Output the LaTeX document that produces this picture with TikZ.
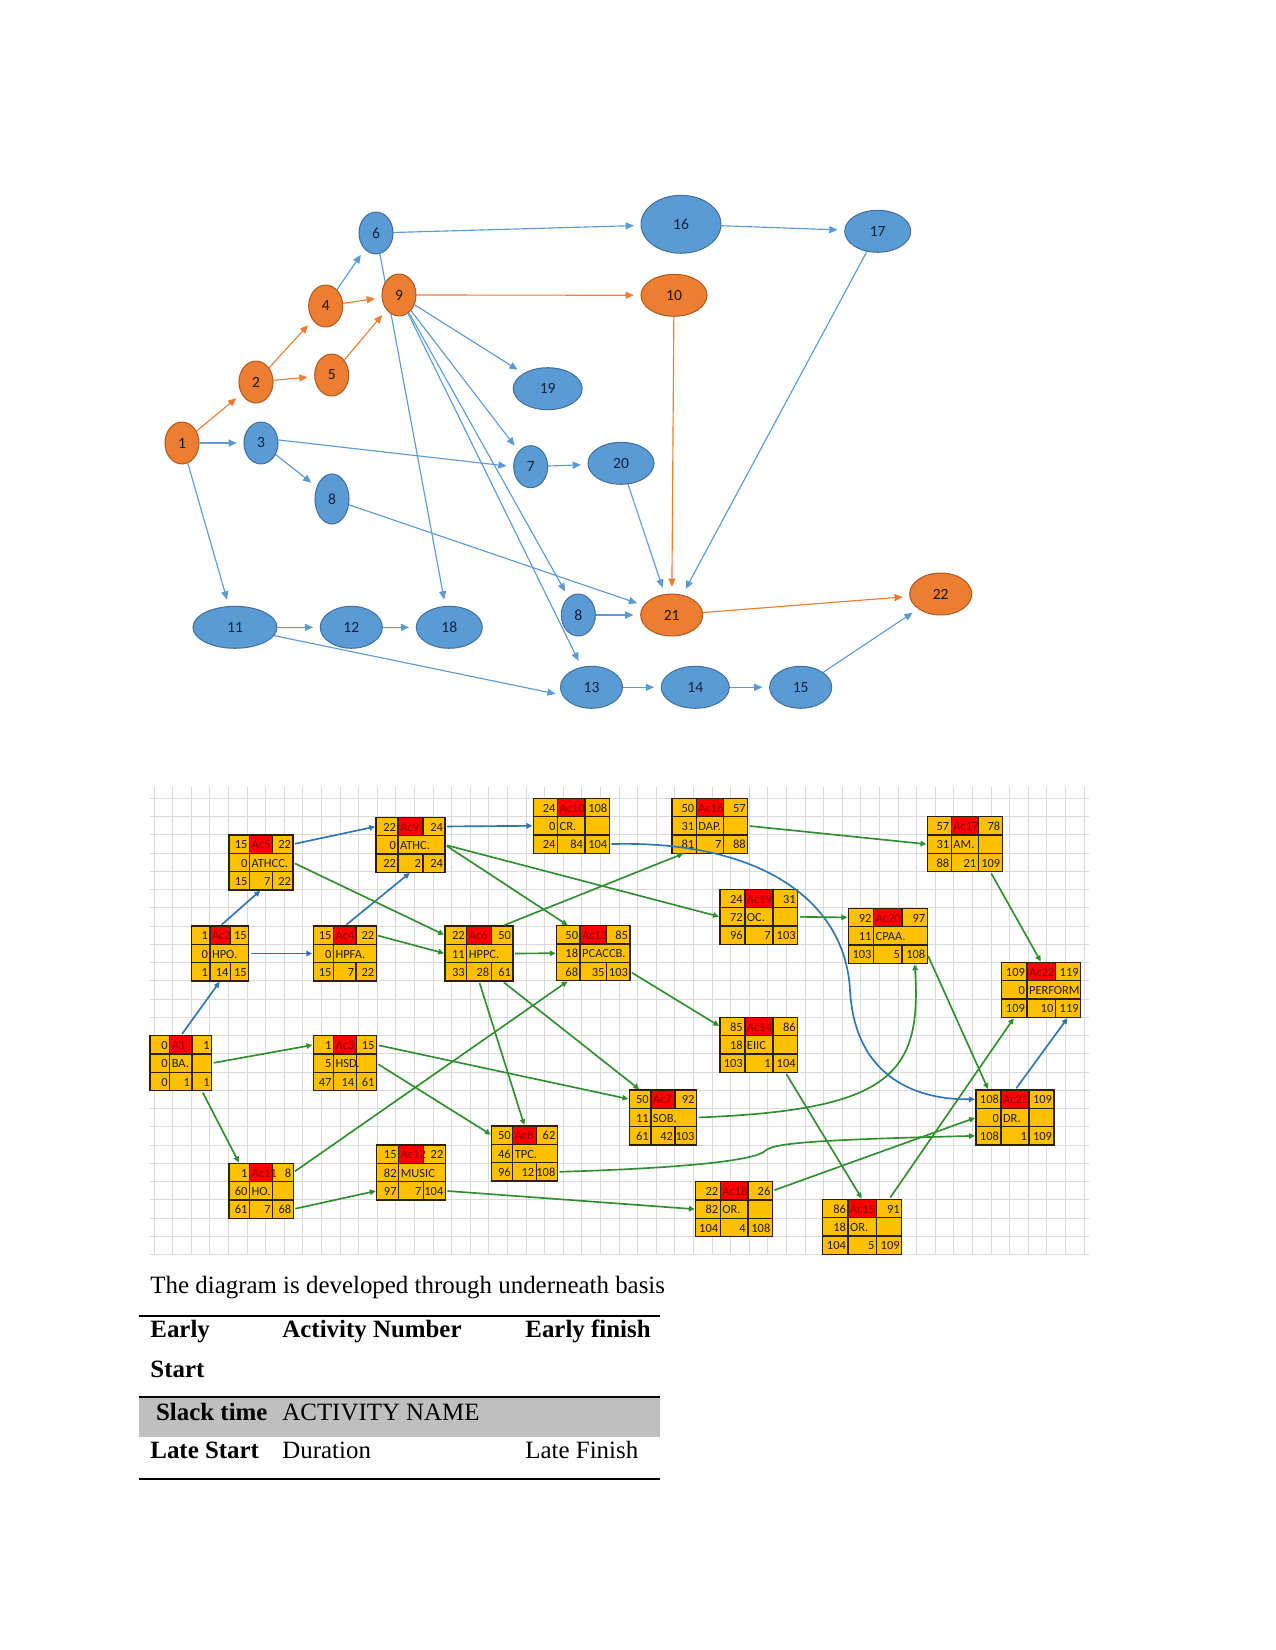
\documentclass[tikz,border=0pt]{standalone}
\usepackage{fontspec}
\setmainfont{Liberation Serif}
\newfontfamily\calibri{Carlito}
\usetikzlibrary{arrows.meta,shapes.geometric,backgrounds}

\definecolor{evblue}{HTML}{5B9BD5}
\definecolor{evblueline}{HTML}{41719C}
\definecolor{evorange}{HTML}{ED7D31}
\definecolor{evorangeline}{HTML}{AE5A21}
\definecolor{evink}{HTML}{14213D}
\definecolor{boxgold}{HTML}{FFC000}
\definecolor{boxred}{HTML}{FF0000}
\definecolor{boxedge}{HTML}{2B2100}
\definecolor{boxtext}{HTML}{1E1E1E}
\definecolor{boxidtext}{HTML}{8B0000}
\definecolor{linkblue}{HTML}{2E75B6}
\definecolor{linkgreen}{HTML}{2F8F2F}
\definecolor{gridgray}{HTML}{DADADA}
\definecolor{bandgray}{HTML}{BFBFBF}

% activity box: name, x, y, width, ES/No./EF, slack/name, LS/dur/LF, split middle row
\def\actrowA#1/#2/#3\relax{\def\aES{#1}\def\aNo{#2}\def\aEF{#3}}
\def\actrowB#1/#2\relax{\def\aSL{#1}\def\aNm{#2}}
\def\actrowC#1/#2/#3\relax{\def\aLS{#1}\def\aDu{#2}\def\aLF{#3}}
\newcommand{\act}[8]{%
  \actrowA#5\relax\actrowB#6\relax\actrowC#7\relax
  \fill[boxgold] (#2,#3) rectangle ++(#4,55);
  \fill[boxred] (#2+0.32*#4,#3) rectangle ++(0.36*#4,18.33);
  \draw[cell] (#2,#3) rectangle ++(#4,55)
    (#2,#3+18.33) -- ++(#4,0) (#2,#3+36.67) -- ++(#4,0)
    (#2+0.32*#4,#3) -- ++(0,55)
    (#2+0.68*#4,#3) -- ++(0,18.33) (#2+0.68*#4,#3+36.67) -- ++(0,18.33);
  \ifnum#8=1 \draw[cell] (#2+0.68*#4,#3+18.33) -- ++(0,18.33);\fi
  \node[num, anchor=mid east] (#1-es) at (#2+0.32*#4,#3+9.17) {\aES};
  \node[idtxt, anchor=mid west] (#1-no) at (#2+0.32*#4,#3+9.17) {\aNo};
  \node[num, anchor=mid east] (#1-ef) at (#2+#4,#3+9.17) {\aEF};
  \node[num, anchor=mid east] (#1-sl) at (#2+0.32*#4,#3+27.5) {\aSL};
  \node[num, anchor=mid west] (#1-nm) at (#2+0.32*#4,#3+27.5) {\aNm};
  \node[num, anchor=mid east] (#1-ls) at (#2+0.32*#4,#3+45.83) {\aLS};
  \node[num, anchor=mid east] (#1-du) at (#2+0.68*#4,#3+45.83) {\aDu};
  \node[num, anchor=mid east] (#1-lf) at (#2+#4,#3+45.83) {\aLF};
  \coordinate (#1-n1) at (#2+0.16*#4,#3);
  \coordinate (#1-n2) at (#2+0.5*#4,#3);
  \coordinate (#1-n3) at (#2+0.84*#4,#3);
  \coordinate (#1-s1) at (#2+0.16*#4,#3+55);
  \coordinate (#1-s2) at (#2+0.5*#4,#3+55);
  \coordinate (#1-s3) at (#2+0.84*#4,#3+55);
  \coordinate (#1-w1) at (#2,#3+9.17);
  \coordinate (#1-w2) at (#2,#3+27.5);
  \coordinate (#1-w3) at (#2,#3+45.83);
  \coordinate (#1-e1) at (#2+#4,#3+9.17);
  \coordinate (#1-e2) at (#2+#4,#3+27.5);
  \coordinate (#1-e3) at (#2+#4,#3+45.83);
}

\begin{document}
\begin{tikzpicture}[
    x=0.4818pt, y=-0.4818pt,
    ev/.style={ellipse, inner sep=0pt, line width=0.5pt, font=\calibri\fontsize{7.5}{9}\selectfont},
    bev/.style={ev, fill=evblue, draw=evblueline, text=evink},
    oev/.style={ev, fill=evorange, draw=evorangeline, text=black!90},
    evs/.style={minimum width=16.4pt, minimum height=20.2pt},
    evn/.style={minimum width=29.9pt, minimum height=20.2pt},
    evm/.style={minimum width=31.8pt, minimum height=20.2pt},
    evw/.style={minimum width=40.5pt, minimum height=20.2pt},
    edge/.style={-{Triangle[length=4pt,width=3.4pt]}, line width=0.55pt, shorten >=3.2pt},
    dep/.style={edge, draw=evblue},
    crit/.style={edge, draw=evorange},
    cell/.style={draw=boxedge, line width=0.7pt},
    num/.style={inner xsep=0.8pt, inner ysep=0pt, text=boxtext, font=\calibri\fontsize{6}{7}\selectfont},
    idtxt/.style={num, text=boxidtext},
    gridline/.style={draw=gridgray, line width=0.5pt},
    link/.style={-{Triangle[length=2.8pt,width=2.6pt]}, line width=0.8pt, shorten <=1pt, shorten >=0.5pt},
    lblue/.style={link, draw=linkblue},
    lgreen/.style={link, draw=linkgreen},
    txt/.style={inner sep=0pt, anchor=base west, font=\fontsize{12}{14}\selectfont},
    btxt/.style={txt, font=\bfseries\fontsize{12}{14}\selectfont}
]
\useasboundingbox (0,0) rectangle (1275,1650);

% Event network
\node[oev, evs] (n1) at (182,443) {1};
\node[oev, evs] (n2) at (256,382) {2};
\node[bev, evs] (n3) at (261,443) {3};
\node[oev, evs] (n4) at (325.7,306) {4};
\node[oev, evs] (n5) at (331.7,375) {5};
\node[bev, evs] (n6) at (376,233) {6};
\node[oev, evs] (n9) at (399,295) {9};
\node[bev, minimum width=38.5pt, minimum height=27.9pt] (n16) at (681,224.3) {16};
\node[bev, evm] (n17) at (877.7,231.3) {17};
\node[oev, evm] (n10) at (674,295.3) {10};
\node[bev, evm, minimum width=33.2pt] (n19) at (547.7,388.7) {19};
\node[bev, evs] (n7) at (530.7,466.7) {7};
\node[bev, evm] (n20) at (621,463.3) {20};
\node[bev, evs, minimum height=24.1pt] (n8a) at (332,499) {8};
\node[bev, evw] (n11) at (235,627.3) {11};
\node[bev, evn] (n12) at (351.3,627.3) {12};
\node[bev, evm] (n18) at (449.3,627.3) {18};
\node[bev, evs] (n8b) at (578.3,615) {8};
\node[oev, evn] (n21) at (671.7,615) {21};
\node[oev, evn] (n22) at (940.7,594) {22};
\node[bev, evn] (n13) at (591.5,687.3) {13};
\node[bev, evm, minimum width=32.8pt] (n14) at (695.3,687.3) {14};
\node[bev, evn] (n15) at (800.7,687.3) {15};

\begin{scope}[on background layer]
% critical path
\draw[crit] (n1) -- (n2);
\draw[crit] (n2) -- (n4);
\draw[crit] (n2) -- (n5);
\draw[crit] (n4) -- (n9);
\draw[crit] (n5) -- (n9);
\draw[crit] (n9) -- (n10);
\draw[crit] (n10) -- (n21);
\draw[crit] (n21) -- (n22);
% other dependencies
\draw[dep] (n1) -- (n3);
\draw[dep] (n1) -- (n11);
\draw[dep] (n4) -- (n6);
\draw[dep] (n6) -- (n16);
\draw[dep] (n6) -- (n18);
\draw[dep] (n16) -- (n17);
\draw[dep] (n17) -- (n21);
\draw[dep] (n9) -- (n19);
\draw[dep] (n9) -- (n7);
\draw[dep] (n9) -- (n8b);
\draw[dep] (n9) -- (n13);
\draw[dep] (n3.10) -- (n7.west);
\draw[dep] (n3) -- (n8a);
\draw[dep] (n7) -- (n20);
\draw[dep] (n20) -- (n21);
\draw[dep] (n8a) -- (n21);
\draw[dep] (n8b) -- (n21);
\draw[dep] (n11) -- (n12);
\draw[dep] (n12) -- (n18);
\draw[dep] (n11.-12) -- (n13.195);
\draw[dep] (n13) -- (n14);
\draw[dep] (n14) -- (n15);
\draw[dep] (n15) -- (n22);
\end{scope}

% Sheet grid
\begin{scope}
  \clip (150,787) rectangle (1089,1255);
  \foreach \gx in {0,...,50} \draw[gridline] (154.1+18.6*\gx,787) -- ++(0,468);
  \foreach \gy in {0,...,25} \draw[gridline] (150,798.3+18.25*\gy) -- ++(939,0);
\end{scope}

% Activity boxes
\act{a1}{150}{1035.7}{61.7}{0/A1/1}{0/BA.}{0/1/1}{1}
\act{a2}{191.7}{926}{57}{1/Ac2/15}{0/HPO.}{1/14/15}{0}
\act{a3}{313.3}{1035.7}{63.3}{1/Ac3/15}{5/HSD.}{47/14/61}{1}
\act{a4}{313.3}{926}{63}{15/Ac4/22}{0/HPFA.}{15/7/22}{0}
\act{a5}{229}{835}{64}{15/Ac5/22}{0/ATHCC.}{15/7/22}{0}
\act{a6}{445}{926}{68}{22/Ac6/50}{11/HPPC.}{33/28/61}{0}
\act{a7}{629.3}{1090}{67.3}{50/Ac7/92}{11/SOB.}{61/42/103}{0}
\act{a8}{491.7}{1126}{65.7}{50/Ac8/62}{46/TPC.}{96/12/108}{0}
\act{a9}{376}{817.3}{69}{22/Ac9/24}{0/ATHC.}{22/2/24}{0}
\act{a10}{533.3}{798.3}{76}{24/Ac10/108}{0/CR.}{24/84/104}{1}
\act{a11}{229}{1163.3}{64.3}{1/Ac11/8}{60/HO.}{61/7/68}{1}
\act{a12}{376.7}{1145}{68.7}{15/Ac12/22}{82/MUSIC}{97/7/104}{0}
\act{a13}{556.7}{925.7}{73.3}{50/Ac13/85}{18/PCACCB.}{68/35/103}{0}
\act{a14}{720}{1017.3}{77.7}{85/Ac14/86}{18/EIIC}{103/1/104}{1}
\act{a15}{822.7}{1199.3}{79}{86/Ac15/91}{18/OR.}{104/5/109}{1}
\act{a16}{672}{798.3}{75.7}{50/Ac16/57}{31/DAP.}{81/7/88}{1}
\act{a17}{927.3}{816.7}{75}{57/Ac17/78}{31/AM.}{88/21/109}{1}
\act{a18}{695.7}{1181.7}{76.7}{22/Ac18/26}{82/OR.}{104/4/108}{1}
\act{a19}{720}{889.3}{77.7}{24/Ac19/31}{72/OC.}{96/7/103}{1}
\act{a20}{848.3}{908.3}{79}{92/Ac20/97}{11/CPAA.}{103/5/108}{0}
\act{a21}{976}{1090}{78}{108/Ac21/109}{0/DR.}{108/1/109}{1}
\act{a22}{1001.7}{962.3}{79}{109/Ac22/119}{0/PERFORM}{109/10/119}{0}

% Blue links
\draw[lblue] (a1-n2) -- (a2-s2);
\draw[lblue] (a2-n2) -- (a5-s2);
\draw[lblue] (a2-e2) -- (a4-w2);
\draw[lblue] (a5-e1) -- (a9-w1);
\draw[lblue] (a4-n2) -- (a9-s2);
\draw[lblue] (a9-e1) -- (a10-w2);
\draw[lblue] (a10-e3) .. controls (760,840) and (845,900) .. (850,990) .. controls (855,1080) and (920,1100) .. (a21-w1);
\draw[lblue] (a21-n2) -- (a22-s3);

% Green links
\draw[lgreen] (a1-e2) -- (a3-w1);
\draw[lgreen] (a1-s3) -- (a11-n1);
\draw[lgreen] (a11-e1) -- (a13-s1);
\draw[lgreen] (a11-e3) -- (a12-w3);
\draw[lgreen] (a3-e1) -- (a7-w1);
\draw[lgreen] (a3-e2) -- (a8-w1);
\draw[lgreen] (a12-e3) -- (a18-w2);
\draw[lgreen] (a5-e2) -- (a6-w1);
\draw[lgreen] (a4-e1) -- (a6-w2);
\draw[lgreen] (a9-e2) -- (a19-w2);
\draw[lgreen] (a9-e2) -- (a13-n1);
\draw[lgreen] (a6-n3) -- (a16-s1);
\draw[lgreen] (a6-e2) -- (a13-w2);
\draw[lgreen] (a6-s2) -- (a8-n2);
\draw[lgreen] (a6-s3) -- (a7-n1);
\draw[lgreen] (a13-e3) -- (a14-w1);
\draw[lgreen] (a16-e2) -- (a17-w2);
\draw[lgreen] (a19-e2) -- (a20-w1);
\draw[lgreen] (a17-s3) -- (a22-n2);
\draw[lgreen] (a20-e3) -- (a21-n1);
\draw[lgreen] (a7-e2) .. controls (890,1110) and (922,1075) .. (a20-s3);
\draw[lgreen] (a8-e3) .. controls (690,1168) and (755,1160) .. (765,1151) .. controls (772,1144) and (800,1140) .. (a21-w3);
\draw[lgreen] (a18-e1) -- (a21-w2);
\draw[lgreen] (a14-s3) -- (a15-n2);
\draw[lgreen] (a15-n3) -- (a22-s1);

% Key table
\node[txt] (caption) at (150,1293) {The diagram is developed through underneath basis};
\fill[bandgray] (139,1396.7) rectangle (660,1436.7);
\draw[line width=1.1pt] (139,1316) -- (660,1316);
\draw[line width=1.1pt] (139,1396.7) -- (660,1396.7);
\draw[line width=0.8pt] (139,1479) -- (660,1479);
\node[btxt] (t-es) at (150,1337.3) {Early};
\node[btxt] (t-st) at (150,1377.3) {Start};
\node[btxt] (t-no) at (282,1337.3) {Activity Number};
\node[btxt] (t-ef) at (525,1337.3) {Early finish};
\node[btxt] (t-sl) at (155.7,1420) {Slack time};
\node[txt] (t-nm) at (282,1420) {ACTIVITY NAME};
\node[btxt] (t-ls) at (150,1458.3) {Late Start};
\node[txt] (t-du) at (282,1458.3) {Duration};
\node[txt] (t-lf) at (525,1458.3) {Late Finish};
\end{tikzpicture}
\end{document}
